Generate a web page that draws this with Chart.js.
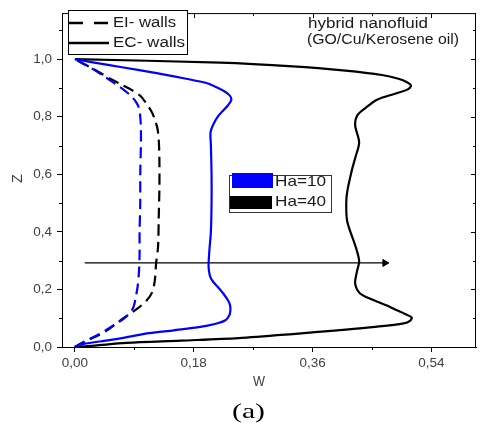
<!DOCTYPE html>
<html><head><meta charset="utf-8">
<script src="https://cdn.jsdelivr.net/npm/chart.js@4"></script>
<style>html,body{margin:0;padding:0;background:#fff}#wrap{width:481px;height:424px;position:relative}</style>
</head><body><div id="wrap"><canvas id="c"></canvas></div>
<script>
// ---- tick labels / axes ----
const xTicks = [0, 0.18, 0.36, 0.54];
const xMinorTicks = [0.09, 0.27, 0.45];
const yTicks = [0, 0.2, 0.4, 0.6, 0.8, 1.0];
const yMinorTicks = [0.1, 0.3, 0.5, 0.7, 0.9, 1.1];
const xTitle = 'W';
const yTitle = 'Z';
const panelLabel = '(a)';
const wallLabels = ['EI- walls', 'EC- walls'];
const haLabels = ['Ha=10', 'Ha=40'];
const noteLines = ['hybrid nanofluid', '(GO/Cu/Kerosene oil)'];

// ---- series: EI walls, Ha=10 (blue dashed) ----
const zEI10 = [0, 0.02, 0.04, 0.06, 0.08, 0.1, 0.12, 0.14, 0.17, 0.21, 0.26, 0.32, 0.4, 0.5, 0.6, 0.7, 0.76, 0.8, 0.83, 0.85, 0.87, 0.89, 0.91, 0.93, 0.95, 0.97, 0.985, 1.0];
const wEI10 = [0, 0.016, 0.033, 0.048, 0.062, 0.075, 0.084, 0.089, 0.092, 0.095, 0.097, 0.098, 0.098, 0.099, 0.099, 0.1, 0.1, 0.099, 0.097, 0.093, 0.086, 0.076, 0.064, 0.051, 0.038, 0.024, 0.012, 0];
// ---- EI walls, Ha=40 (black dashed) ----
const zEI40 = [0, 0.02, 0.04, 0.06, 0.086, 0.11, 0.134, 0.16, 0.19, 0.23, 0.29, 0.35, 0.45, 0.55, 0.65, 0.72, 0.76, 0.79, 0.814, 0.85, 0.873, 0.89, 0.911, 0.93, 0.95, 0.97, 0.985, 1.0];
const wEI40 = [0, 0.015, 0.035, 0.05, 0.065, 0.08, 0.095, 0.108, 0.117, 0.121, 0.123, 0.126, 0.127, 0.128, 0.128, 0.127, 0.125, 0.121, 0.117, 0.107, 0.099, 0.088, 0.071, 0.055, 0.04, 0.025, 0.012, 0];
// ---- EC walls, Ha=10 (blue solid) ----
const zEC10 = [0, 0.01, 0.024, 0.036, 0.048, 0.058, 0.069, 0.08, 0.093, 0.11, 0.127, 0.145, 0.16, 0.185, 0.206, 0.225, 0.241, 0.265, 0.289, 0.344, 0.4, 0.5, 0.6, 0.7, 0.746, 0.775, 0.804, 0.82, 0.84, 0.859, 0.875, 0.89, 0.905, 0.918, 0.94, 0.962, 0.98, 1.0];
const wEC10 = [0, 0.012, 0.0525, 0.083, 0.1125, 0.15, 0.1875, 0.212, 0.228, 0.234, 0.2355, 0.235, 0.2325, 0.225, 0.2175, 0.21, 0.2055, 0.203, 0.2025, 0.204, 0.206, 0.207, 0.207, 0.206, 0.2055, 0.21, 0.2175, 0.224, 0.232, 0.237, 0.234, 0.225, 0.212, 0.198, 0.15, 0.0975, 0.05, 0];
// ---- EC walls, Ha=40 (black solid) ----
const zEC40 = [0, 0.005, 0.014, 0.022, 0.031, 0.045, 0.058, 0.07, 0.082, 0.092, 0.103, 0.115, 0.13, 0.144, 0.165, 0.186, 0.22, 0.26, 0.299, 0.35, 0.436, 0.5, 0.54, 0.619, 0.66, 0.711, 0.77, 0.804, 0.83, 0.859, 0.88, 0.895, 0.908, 0.92, 0.932, 0.945, 0.96, 0.975, 0.988, 1.0];
const wEC40 = [0, 0.03, 0.078, 0.16, 0.2475, 0.33, 0.3975, 0.455, 0.498, 0.508, 0.51, 0.5, 0.485, 0.4725, 0.45, 0.432, 0.4245, 0.427, 0.4305, 0.425, 0.4125, 0.411, 0.4125, 0.42, 0.425, 0.4305, 0.4245, 0.4275, 0.44, 0.4575, 0.485, 0.504, 0.509, 0.503, 0.49, 0.465, 0.41, 0.33, 0.22, 0];
// ---- arrow (increasing Ha) ----
const arrowW = [0.015, 0.4695];
const arrowZ = [0.292, 0.292];

const pts = (ws, zs) => ws.map((w, i) => ({x: w, y: zs[i]}));

const BLUE = '#0000ff', BLACK = '#000000';
const LBL = '#404040';

function stretchText(ctx, s, x, y, size, family, width, color) {
  ctx.save();
  ctx.font = size + 'px ' + family;
  ctx.fillStyle = color || '#111';
  ctx.textBaseline = 'middle';
  ctx.textAlign = 'left';
  const m = ctx.measureText(s).width;
  ctx.translate(x, y);
  if (width) ctx.scale(width / m, 1);
  ctx.fillText(s, 0, 0);
  ctx.restore();
}

const decor = {
  id: 'decor',
  afterDraw(chart) {
    const {ctx, chartArea: a, scales: {x, y}} = chart;
    ctx.save();
    ctx.strokeStyle = '#000';
    ctx.lineWidth = 1;
    // frame top/right
    ctx.beginPath();
    ctx.moveTo(a.left, a.top + 0.5); ctx.lineTo(a.right, a.top + 0.5);
    ctx.moveTo(a.right - 0.5, a.top); ctx.lineTo(a.right - 0.5, a.bottom);
    ctx.stroke();
    ctx.beginPath();
    // minor ticks bottom/left outward
    xMinorTicks.forEach(v => { const px = Math.round(x.getPixelForValue(v)) + 0.5; ctx.moveTo(px, a.bottom); ctx.lineTo(px, a.bottom + 3); });
    yMinorTicks.forEach(v => { const py = Math.round(y.getPixelForValue(v)) + 0.5; ctx.moveTo(a.left, py); ctx.lineTo(a.left - 3, py); });
    // top inward
    xTicks.forEach(v => { const px = Math.round(x.getPixelForValue(v)) + 0.5; ctx.moveTo(px, a.top); ctx.lineTo(px, a.top + 5); });
    xMinorTicks.forEach(v => { const px = Math.round(x.getPixelForValue(v)) + 0.5; ctx.moveTo(px, a.top); ctx.lineTo(px, a.top + 3); });
    // right inward
    yTicks.forEach(v => { const py = Math.round(y.getPixelForValue(v)) + 0.5; ctx.moveTo(a.right, py); ctx.lineTo(a.right - 5, py); });
    yMinorTicks.forEach(v => { const py = Math.round(y.getPixelForValue(v)) + 0.5; ctx.moveTo(a.right, py); ctx.lineTo(a.right - 3, py); });
    ctx.stroke();

    const SANS = '"Liberation Sans", Arial, sans-serif';
    // wall-type legend
    ctx.fillStyle = '#fff';
    ctx.fillRect(68, 10, 120, 44);
    ctx.strokeStyle = '#000';
    ctx.lineWidth = 1;
    ctx.strokeRect(68.5, 10.5, 119, 44);
    ctx.lineWidth = 2.5;
    ctx.setLineDash([14, 11]);
    ctx.beginPath(); ctx.moveTo(69, 23); ctx.lineTo(109, 23); ctx.stroke();
    ctx.setLineDash([]);
    ctx.beginPath(); ctx.moveTo(69, 43); ctx.lineTo(109, 43); ctx.stroke();
    stretchText(ctx, wallLabels[0], 113, 23, 15.5, SANS, 63, '#1a1a1a');
    stretchText(ctx, wallLabels[1], 113, 43, 15.5, SANS, 72, '#1a1a1a');

    // note
    stretchText(ctx, noteLines[0], 308, 24, 14, SANS, 120, '#1a1a1a');
    stretchText(ctx, noteLines[1], 307, 40, 14, SANS, 152, '#1a1a1a');

    // Ha legend
    ctx.fillStyle = '#fff';
    ctx.fillRect(229, 175, 102, 37);
    ctx.lineWidth = 1;
    ctx.strokeStyle = '#333';
    ctx.strokeRect(229.5, 175.5, 102, 37);
    ctx.fillStyle = BLUE; ctx.fillRect(232, 173, 41, 15);
    ctx.fillStyle = BLACK; ctx.fillRect(230, 196, 42, 13);
    stretchText(ctx, haLabels[0], 275, 182, 15, SANS, 51, '#1a1a1a');
    stretchText(ctx, haLabels[1], 275, 202, 15, SANS, 51, '#1a1a1a');

    // axis titles
    stretchText(ctx, xTitle, 253, 382, 14, SANS, 12, LBL);
    ctx.save();
    ctx.translate(18, 178);
    ctx.rotate(-Math.PI / 2);
    stretchText(ctx, yTitle, -5, 0, 14.5, SANS, null, LBL);
    ctx.restore();
    stretchText(ctx, panelLabel, 232, 412, 22, '"Liberation Serif", "Times New Roman", serif', 33, '#000');
    ctx.restore();
  }
};

const lineDs = (label, ws, zs, color, dashed) => ({
  label, data: pts(ws, zs), showLine: true, borderColor: color, backgroundColor: color,
  borderWidth: 2.2, pointRadius: 0, tension: 0.3, borderDash: dashed ? [11, 6] : [], fill: false
});

new Chart(document.getElementById('c'), {
  type: 'scatter',
  data: {
    datasets: [
      lineDs(wallLabels[0] + ' ' + haLabels[0], wEI10, zEI10, BLUE, true),
      lineDs(wallLabels[0] + ' ' + haLabels[1], wEI40, zEI40, BLACK, true),
      lineDs(wallLabels[1] + ' ' + haLabels[0], wEC10, zEC10, BLUE, false),
      lineDs(wallLabels[1] + ' ' + haLabels[1], wEC40, zEC40, BLACK, false),
      {
        label: 'arrow', data: pts(arrowW, arrowZ), showLine: true, borderColor: BLACK,
        backgroundColor: BLACK, borderWidth: 1.2, pointStyle: 'triangle', rotation: 90,
        pointRadius: [0, 4], pointBorderWidth: 1, tension: 0
      }
    ]
  },
  options: {
    responsive: true, maintainAspectRatio: false, animation: false,
    devicePixelRatio: 1,
    layout: {padding: {left: 0, right: 1, top: 10, bottom: 0}},
    plugins: {legend: {display: false}, tooltip: {enabled: false}},
    scales: {
      x: {
        type: 'linear', min: -0.0195, max: 0.6075,
        afterBuildTicks: s => { s.ticks = xTicks.map(v => ({value: v})); },
        afterFit: s => { s.height = 77; },
        grid: {drawOnChartArea: false, tickLength: 5, tickColor: '#000', color: '#000'},
        border: {display: true, color: '#000', width: 1},
        ticks: {color: LBL, padding: 3, font: {family: '"Liberation Sans", Arial, sans-serif', size: 13.5},
          callback: v => v.toFixed(2).replace('.', ','), maxRotation: 0}
      },
      y: {
        type: 'linear', min: 0, max: 1.16,
        afterBuildTicks: s => { s.ticks = yTicks.map(v => ({value: v})); },
        afterFit: s => { s.width = 62; },
        grid: {drawOnChartArea: false, tickLength: 5, tickColor: '#000', color: '#000'},
        border: {display: true, color: '#000', width: 1},
        ticks: {color: LBL, padding: 5, font: {family: '"Liberation Sans", Arial, sans-serif', size: 13.5},
          callback: v => v.toFixed(1).replace('.', ',')}
      }
    }
  },
  plugins: [decor]
});
</script>
</body></html>
